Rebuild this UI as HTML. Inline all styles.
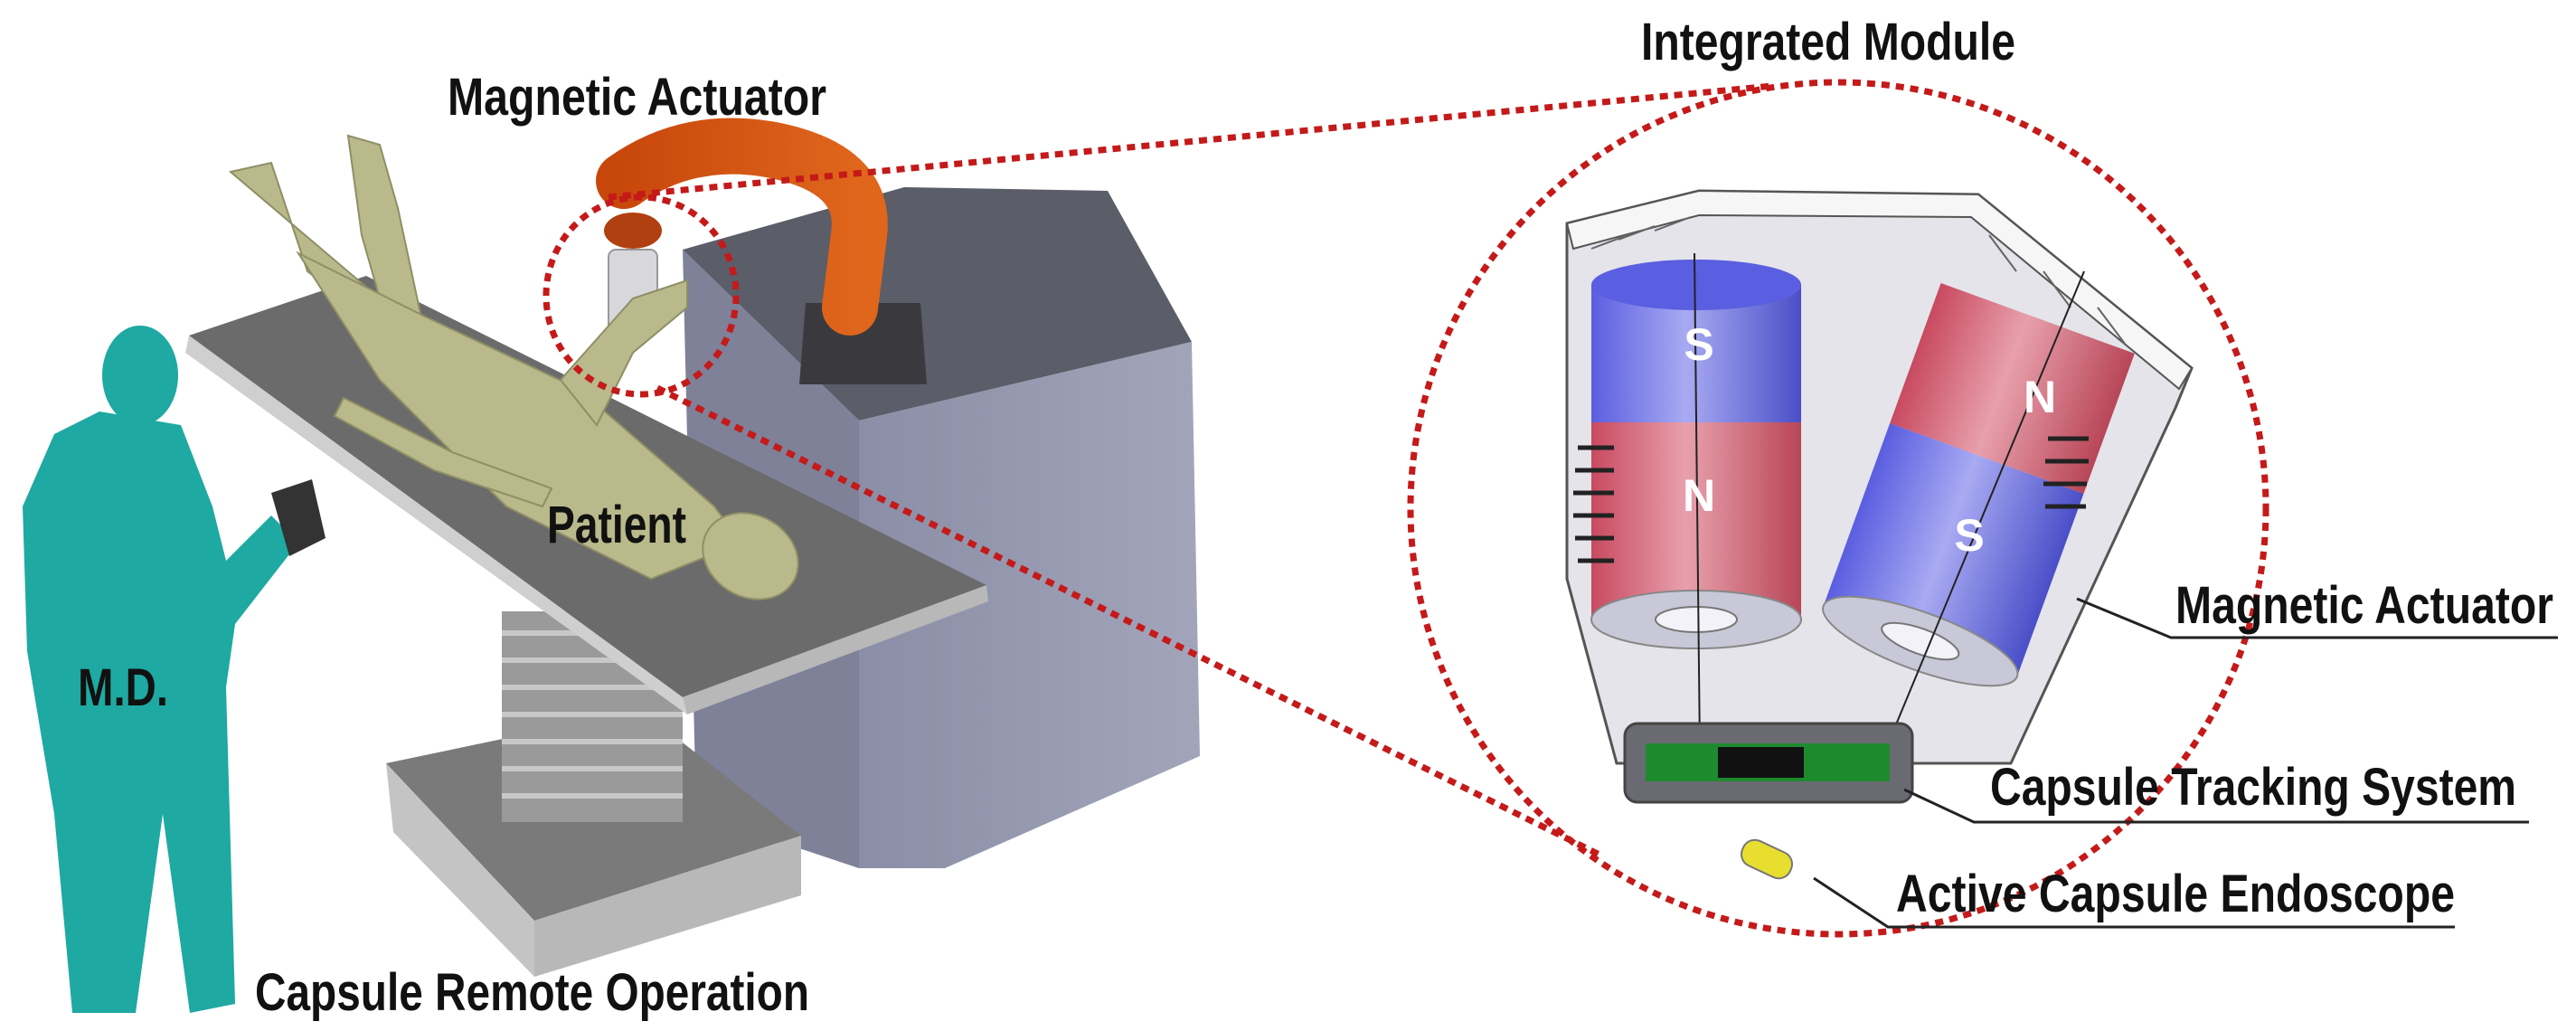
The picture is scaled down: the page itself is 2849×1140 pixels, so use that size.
<!DOCTYPE html>
<html><head><meta charset="utf-8"><style>
html,body{margin:0;padding:0;background:#fff;}
svg{display:block;}
text{font-family:"Liberation Sans",sans-serif;font-weight:bold;fill:#111;}
</style></head><body>
<svg width="2849" height="1140" viewBox="0 0 2849 1140" xmlns="http://www.w3.org/2000/svg">
<defs>
<linearGradient id="blue" x1="0" x2="1"><stop offset="0" stop-color="#5a5ee0"/><stop offset="0.45" stop-color="#a8aaf2"/><stop offset="1" stop-color="#4a4fc8"/></linearGradient>
<linearGradient id="red" x1="0" x2="1"><stop offset="0" stop-color="#c84a60"/><stop offset="0.45" stop-color="#e8a0ac"/><stop offset="1" stop-color="#b84658"/></linearGradient>
<linearGradient id="box" x1="0" x2="1"><stop offset="0" stop-color="#8a8ea6"/><stop offset="1" stop-color="#a2a5ba"/></linearGradient>
<linearGradient id="orange" x1="0" x2="1"><stop offset="0" stop-color="#c8480c"/><stop offset="1" stop-color="#e0661c"/></linearGradient>
</defs>

<polygon points="755,276 1000,207 1225,211 1318,378 950,465" fill="#5b5d68"/>
<polygon points="755,276 950,465 950,960 770,900" fill="#7e8198"/>
<polygon points="950,465 1318,378 1327,836 1045,960 950,960" fill="url(#box)"/>

<polygon points="891,335 1018,335 1025,425 884,425" fill="#3a3a3e"/>
<path d="M690,200 Q760,150 850,165 Q960,185 950,260 L940,340" fill="none" stroke="url(#orange)" stroke-width="62" stroke-linecap="round"/>
<ellipse cx="700" cy="255" rx="32" ry="20" fill="#b04010"/>
<rect x="673" y="276" width="54" height="95" rx="8" fill="#d8d8dc" stroke="#999" stroke-width="2"/>

<polygon points="427,844 709,785 886,924 591,1018" fill="#7a7a7a"/>
<polygon points="427,844 591,1018 591,1080 435,920" fill="#c4c4c4"/>
<polygon points="591,1018 886,924 886,990 591,1080" fill="#b8b8b8"/>
<rect x="555" y="676" width="200" height="233" fill="#9a9a9a"/>
<g stroke="#c8c8c8" stroke-width="6">
<line x1="555" y1="700" x2="755" y2="700"/><line x1="555" y1="730" x2="755" y2="730"/><line x1="555" y1="760" x2="755" y2="760"/><line x1="555" y1="790" x2="755" y2="790"/><line x1="555" y1="820" x2="755" y2="820"/><line x1="555" y1="850" x2="755" y2="850"/><line x1="555" y1="880" x2="755" y2="880"/></g>

<polygon points="209,371 405,305 1091,647 755,771" fill="#6b6b6b"/>
<polygon points="209,371 755,771 760,790 205,390" fill="#cfcfcf"/>
<polygon points="755,771 1091,647 1093,665 760,790" fill="#b8b8b8"/>

<g fill="#b9b98c" stroke="#8f8f66" stroke-width="2">
<path d="M255,190 L300,180 L340,300 L420,360 L470,370 L440,230 L420,160 L385,150 L400,260 L420,330 Z"/>
<path d="M330,280 L470,350 L640,430 L790,560 L820,600 L720,640 L560,560 L420,420 Z"/>
<path d="M380,440 L500,500 L610,540 L600,560 L480,520 L370,460 Z"/>
<path d="M620,420 L700,330 L760,310 L760,340 L700,390 L660,470 Z"/>
<ellipse cx="830" cy="615" rx="55" ry="45" transform="rotate(30 830 615)"/>
</g>

<g fill="#1ea9a2">
<ellipse cx="155" cy="415" rx="42" ry="55"/>
<path d="M110,455 L200,470 L235,560 L250,620 L300,570 L330,600 L260,690 L250,760 L260,1110 L210,1120 L180,900 L150,1120 L80,1120 L60,900 L30,720 L25,560 L60,480 Z"/>
</g>
<polygon points="300,545 345,530 360,595 320,615" fill="#333"/>

<g fill="none" stroke="#c41a1a" stroke-width="7" stroke-dasharray="9,7">
<ellipse cx="709" cy="327" rx="105" ry="109"/>
<line x1="673" y1="218" x2="1960" y2="95"/>
<line x1="727" y1="429" x2="1769" y2="945"/>
<ellipse cx="2033" cy="562" rx="473" ry="471"/>
</g>

<polygon points="1733,247 1879,211 2188,215 2424,407 2406,451 2224,844 1788,844 1733,640" fill="#e4e4ea" stroke="#555" stroke-width="3"/>
<polygon points="1733,247 1879,211 2188,215 2424,407 2410,430 2180,240 1879,238 1740,275" fill="#f6f6f6" stroke="#555" stroke-width="2"/>
<g stroke="#666" stroke-width="2">
<line x1="1760" y1="275" x2="1800" y2="260"/><line x1="1790" y1="265" x2="1830" y2="250"/><line x1="1830" y1="255" x2="1870" y2="240"/><line x1="2200" y1="260" x2="2230" y2="300"/><line x1="2260" y1="300" x2="2290" y2="340"/><line x1="2320" y1="340" x2="2350" y2="380"/></g>
<rect x="1760" y="315" width="232" height="152" fill="url(#blue)"/>
<rect x="1760" y="467" width="232" height="215" fill="url(#red)"/>
<ellipse cx="1876" cy="685" rx="116" ry="32" fill="#c8c8d8" stroke="#888" stroke-width="2"/>
<ellipse cx="1876" cy="685" rx="45" ry="14" fill="#f2f2f8" stroke="#777" stroke-width="2"/>
<ellipse cx="1876" cy="315" rx="116" ry="28" fill="#5a5ee0"/>
<g transform="rotate(20 2186 538)">
<rect x="2072" y="340" width="228" height="165" fill="url(#red)"/>
<rect x="2072" y="505" width="228" height="215" fill="url(#blue)"/>
<ellipse cx="2186" cy="720" rx="114" ry="32" fill="#c8c8d8" stroke="#888" stroke-width="2"/>
<ellipse cx="2186" cy="720" rx="45" ry="14" fill="#f2f2f8" stroke="#777" stroke-width="2"/>
</g>
<g fill="none" stroke="#222" stroke-width="5">
<path d="M1745,495 h40"/><path d="M1742,520 h43"/><path d="M1740,545 h45"/><path d="M1740,570 h45"/><path d="M1742,595 h43"/><path d="M1745,620 h40"/>
<path d="M2265,485 h45"/><path d="M2262,510 h48"/><path d="M2260,535 h48"/><path d="M2262,560 h45"/></g>
<line x1="1874" y1="280" x2="1880" y2="830" stroke="#222" stroke-width="2"/>
<line x1="2305" y1="300" x2="2085" y2="830" stroke="#222" stroke-width="2"/>
<rect x="1797" y="800" width="318" height="87" rx="14" fill="#6a6a72" stroke="#444" stroke-width="3"/>
<rect x="1820" y="822" width="270" height="42" fill="#1e8a2e"/>
<rect x="1900" y="826" width="95" height="34" fill="#111"/>
<rect x="1925" y="935" width="58" height="30" rx="14" fill="#e8de30" stroke="#777" stroke-width="2" transform="rotate(25 1954 950)"/>

<g font-size="50" text-anchor="middle">
<text x="1879" y="398" style="fill:#fff">S</text>
<text x="1879" y="565" style="fill:#fff">N</text>
<text x="2256" y="456" style="fill:#fff">N</text>
<text x="2178" y="609" style="fill:#fff">S</text>
</g>

<g fill="none" stroke="#222" stroke-width="3">
<polyline points="2297,662 2401,705 2829,705"/>
<polyline points="2106,873 2183,909 2797,909"/>
<polyline points="2006,971 2088,1025 2715,1025"/>
</g>

<g font-size="58">
<text x="495" y="127" textLength="419" lengthAdjust="spacingAndGlyphs">Magnetic Actuator</text>
<text x="1815" y="66" textLength="414" lengthAdjust="spacingAndGlyphs">Integrated Module</text>
<text x="2406" y="689" textLength="418" lengthAdjust="spacingAndGlyphs">Magnetic Actuator</text>
<text x="2201" y="890" textLength="582" lengthAdjust="spacingAndGlyphs">Capsule Tracking System</text>
<text x="2097" y="1008" textLength="618" lengthAdjust="spacingAndGlyphs">Active Capsule Endoscope</text>
<text x="282" y="1117" textLength="613" lengthAdjust="spacingAndGlyphs">Capsule Remote Operation</text>
<text x="605" y="600" textLength="154" lengthAdjust="spacingAndGlyphs">Patient</text>
<text x="86" y="780" textLength="100" lengthAdjust="spacingAndGlyphs">M.D.</text>
</g>
</svg>
</body></html>
